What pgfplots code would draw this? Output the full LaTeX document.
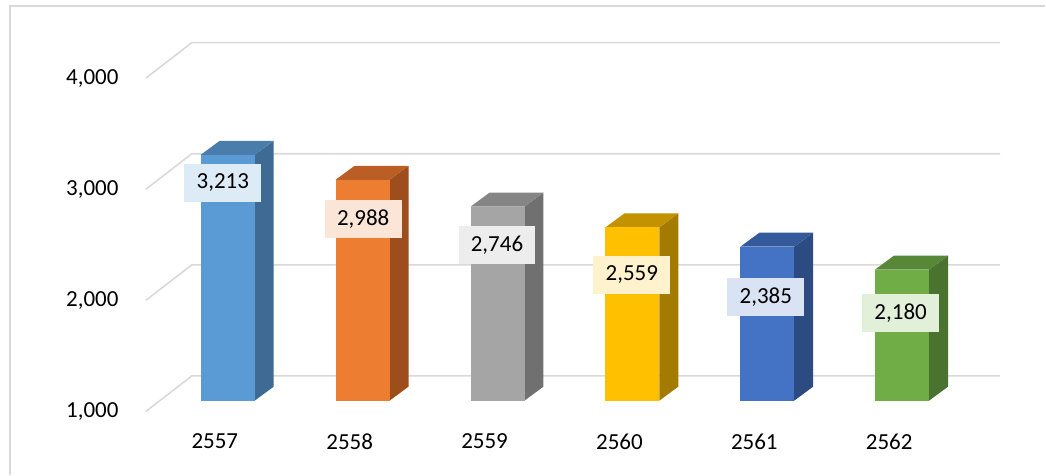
\documentclass[border=0pt]{standalone}
\usepackage{fontspec}
\setmainfont{Carlito}
\usepackage{pgfplots}
\pgfplotsset{compat=1.18}
\definecolor{gridc}{HTML}{D9D9D9}
\definecolor{fA}{HTML}{5B9BD5}\definecolor{tA}{HTML}{4A7DAC}\definecolor{sA}{HTML}{3E6A94}\definecolor{lA}{HTML}{DDEBF7}
\definecolor{fB}{HTML}{ED7D31}\definecolor{tB}{HTML}{BA5E25}\definecolor{sB}{HTML}{9E4E1D}\definecolor{lB}{HTML}{FBE5D6}
\definecolor{fC}{HTML}{A5A5A5}\definecolor{tC}{HTML}{858585}\definecolor{sC}{HTML}{707070}\definecolor{lC}{HTML}{EDEDED}
\definecolor{fD}{HTML}{FFC000}\definecolor{tD}{HTML}{C29200}\definecolor{sD}{HTML}{A37B00}\definecolor{lD}{HTML}{FFF2CC}
\definecolor{fE}{HTML}{4472C4}\definecolor{tE}{HTML}{345A9B}\definecolor{sE}{HTML}{2C4B82}\definecolor{lE}{HTML}{DAE3F3}
\definecolor{fF}{HTML}{70AD47}\definecolor{tF}{HTML}{598738}\definecolor{sF}{HTML}{4A732F}\definecolor{lF}{HTML}{E2F0D9}
\begin{document}
\fontsize{11.5}{14}\selectfont
\begin{tikzpicture}
\begin{axis}[
  scale only axis, width=523pt, height=237.5pt,
  xmin=-1.6889, xmax=6.0593, ymin=334.5, ymax=4606.1,
  clip=false,
  axis line style={draw=none}, major tick length=0pt, tick style={draw=none},
  /pgf/number format/assume math mode=true,
  ytick={903,1903,2903,3903},
  yticklabels={{1,000},{2,000},{3,000},{4,000}},
  yticklabel style={anchor=east, inner sep=0pt, xshift=59.5pt, font=\fontsize{11.5}{14}\selectfont},
  xtick={-0.096,0.904,1.904,2.904,3.904,4.904},
  xticklabels={2557,2558,2559,2560,2561,2562},
  xticklabel style={anchor=center, inner sep=0pt, yshift=16.5pt, font=\fontsize{11.5}{14}\selectfont},
  every axis plot/.append style={line join=round},
]
% chart border (top and left)
\draw[gridc, line width=1pt] (axis cs:-1.615,334.5) -- (axis cs:-1.615,4552) -- (axis cs:6.0593,4552);
% gridlines: left wall and back wall
\addplot[gridc, line width=0.8pt, mark=none] coordinates {(-0.607,903)(-0.267,1222)(5.726,1222)};
\addplot[gridc, line width=0.8pt, mark=none] coordinates {(-0.607,1903)(-0.267,2222)(5.726,2222)};
\addplot[gridc, line width=0.8pt, mark=none] coordinates {(-0.607,2903)(-0.267,3222)(5.726,3222)};
\addplot[gridc, line width=0.8pt, mark=none] coordinates {(-0.607,3903)(-0.267,4222)(5.726,4222)};
% bar 2557 = 3213
\addplot[fill=sA, draw=none] coordinates {(0.2,1000)(0.3407,1126)(0.3407,3339)(0.2,3213)} -- cycle;
\addplot[fill=tA, draw=none] coordinates {(-0.2,3213)(-0.0593,3339)(0.3407,3339)(0.2,3213)} -- cycle;
\addplot[fill=fA, draw=none] coordinates {(-0.2,1000)(0.2,1000)(0.2,3213)(-0.2,3213)} -- cycle;
% bar 2558 = 2988
\addplot[fill=sB, draw=none] coordinates {(1.2,1000)(1.3407,1126)(1.3407,3114)(1.2,2988)} -- cycle;
\addplot[fill=tB, draw=none] coordinates {(0.8,2988)(0.9407,3114)(1.3407,3114)(1.2,2988)} -- cycle;
\addplot[fill=fB, draw=none] coordinates {(0.8,1000)(1.2,1000)(1.2,2988)(0.8,2988)} -- cycle;
% bar 2559 = 2746
\addplot[fill=sC, draw=none] coordinates {(2.2,1000)(2.3407,1126)(2.3407,2872)(2.2,2746)} -- cycle;
\addplot[fill=tC, draw=none] coordinates {(1.8,2746)(1.9407,2872)(2.3407,2872)(2.2,2746)} -- cycle;
\addplot[fill=fC, draw=none] coordinates {(1.8,1000)(2.2,1000)(2.2,2746)(1.8,2746)} -- cycle;
% bar 2560 = 2559
\addplot[fill=sD, draw=none] coordinates {(3.2,1000)(3.3407,1126)(3.3407,2685)(3.2,2559)} -- cycle;
\addplot[fill=tD, draw=none] coordinates {(2.8,2559)(2.9407,2685)(3.3407,2685)(3.2,2559)} -- cycle;
\addplot[fill=fD, draw=none] coordinates {(2.8,1000)(3.2,1000)(3.2,2559)(2.8,2559)} -- cycle;
% bar 2561 = 2385
\addplot[fill=sE, draw=none] coordinates {(4.2,1000)(4.3407,1126)(4.3407,2511)(4.2,2385)} -- cycle;
\addplot[fill=tE, draw=none] coordinates {(3.8,2385)(3.9407,2511)(4.3407,2511)(4.2,2385)} -- cycle;
\addplot[fill=fE, draw=none] coordinates {(3.8,1000)(4.2,1000)(4.2,2385)(3.8,2385)} -- cycle;
% bar 2562 = 2180
\addplot[fill=sF, draw=none] coordinates {(5.2,1000)(5.3407,1126)(5.3407,2306)(5.2,2180)} -- cycle;
\addplot[fill=tF, draw=none] coordinates {(4.8,2180)(4.9407,2306)(5.3407,2306)(5.2,2180)} -- cycle;
\addplot[fill=fF, draw=none] coordinates {(4.8,1000)(5.2,1000)(5.2,2180)(4.8,2180)} -- cycle;
% data labels
\pgfplotsset{lbl/.style={draw=none, mark=none, point meta=explicit, nodes near coords, nodes near coords align=center,
  every node near coord/.append style={anchor=center, fill=#1, inner sep=0pt, minimum width=38.5pt, minimum height=19pt,
  text=black, font=\fontsize{11.5}{14}\selectfont, /pgf/number format/.cd, 1000 sep={,}, assume math mode=true}}}
\addplot[lbl=lA] coordinates {(-0.037,2960) [3213]};
\addplot[lbl=lB] coordinates {(1.004,2637) [2988]};
\addplot[lbl=lC] coordinates {(1.996,2398) [2746]};
\addplot[lbl=lD] coordinates {(2.996,2133) [2559]};
\addplot[lbl=lE] coordinates {(3.989,1935) [2385]};
\addplot[lbl=lF] coordinates {(4.989,1791) [2180]};
\end{axis}
\end{tikzpicture}
\end{document}
